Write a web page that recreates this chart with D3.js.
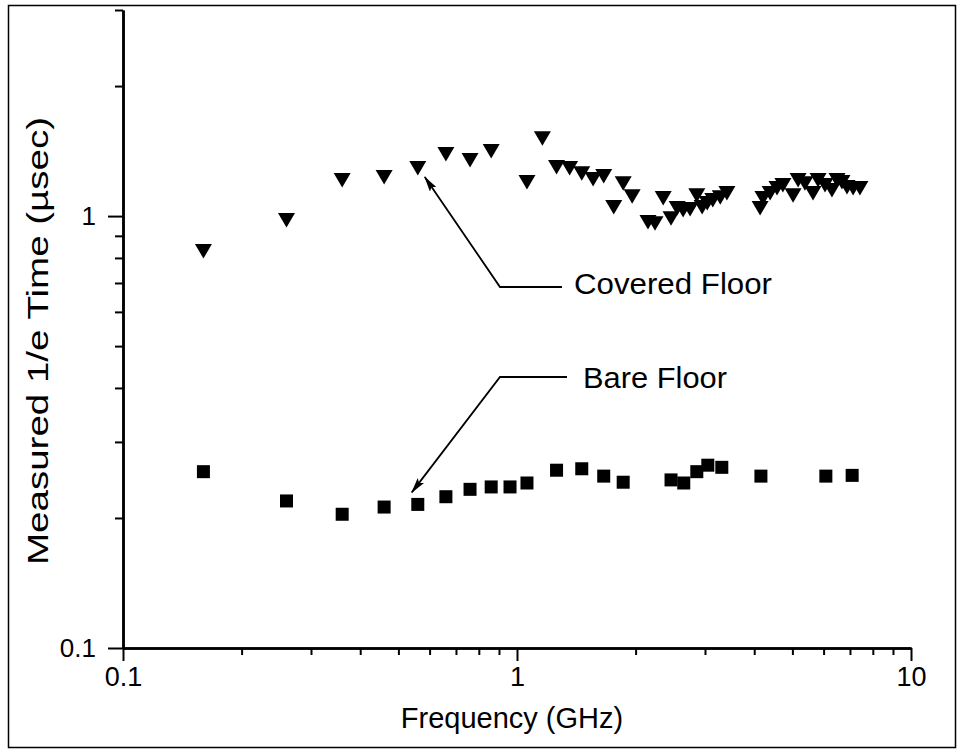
<!DOCTYPE html>
<html><head><meta charset="utf-8">
<script src="https://cdn.jsdelivr.net/npm/d3@7"></script>
<style>
body{margin:0;background:#fff}
svg{display:block}
text{font-family:"Liberation Sans",Arial,Helvetica,sans-serif;fill:#000}
</style>
</head><body>
<svg id="chart" width="959" height="751"></svg>
<script>
// ---- data ----
const coveredFreq = [0.16,0.26,0.36,0.46,0.56,0.66,0.76,0.86,1.06,1.16,1.26,1.36,1.46,1.56,1.66,1.76,1.86,1.96,
  2.15,2.24,2.35,2.46,2.55,2.64,2.75,2.86,2.95,3.04,3.14,3.28,3.41,
  4.14,4.21,4.39,4.57,4.73,5.02,5.17,5.38,5.64,5.81,6.05,6.30,6.49,6.68,6.88,7.13,7.42];
const coveredTime = [0.830,0.979,1.212,1.231,1.292,1.392,1.348,1.414,1.199,1.515,1.299,1.292,1.257,1.218,1.238,1.049,1.192,1.112,
  0.969,0.963,1.101,0.989,1.044,1.033,1.038,1.118,1.049,1.072,1.089,1.106,1.131,
  1.044,1.101,1.131,1.161,1.180,1.118,1.212,1.192,1.131,1.212,1.180,1.149,1.212,1.199,1.167,1.161,1.161];
const bareFreq = [0.16,0.26,0.36,0.46,0.56,0.66,0.76,0.86,0.96,1.06,1.26,1.46,1.66,1.86,2.46,2.65,2.86,3.05,3.31,4.16,6.08,7.09];
const bareTime = [0.256,0.219,0.204,0.212,0.215,0.224,0.233,0.236,0.236,0.241,0.258,0.260,0.250,0.242,0.245,0.241,0.256,0.265,0.262,0.250,0.250,0.251];
const xMajorTicks = [0.1,1,10];
const xTickLabels = ["0.1","1","10"];
const xMinorTicks = [0.2,0.3,0.4,0.5,0.6,0.7,0.8,0.9,2,3,4,5,6,7,8,9];
const yMajorTicks = [0.1,1];
const yTickLabels = ["0.1","1"];
const yMinorTicks = [0.2,0.3,0.4,0.5,0.6,0.7,0.8,0.9,2,3];
const xTitle = "Frequency (GHz)";
const yTitle = "Measured 1/e Time (\u00b5sec)";
const annotations = [
  {label:"Covered Floor", f:0.56, v:1.292},
  {label:"Bare Floor", f:0.56, v:0.215}
];

// ---- drawing ----
const svg = d3.select("#chart");
const x = d3.scaleLog().domain([0.1,10]).range([123,911]);
const y = d3.scaleLog().domain([0.1,3]).range([648,10]);

// outer frame
svg.append("rect").attr("x",8.5).attr("y",5.5).attr("width",947).attr("height",742)
  .attr("fill","none").attr("stroke","#000").attr("stroke-width",1.5);

// axes
function styleAxis(g){
  g.selectAll("path.domain").attr("stroke","#000").attr("stroke-width",2.5);
  g.selectAll(".tick line").attr("stroke","#000").attr("stroke-width",2);
}
const xMinor = svg.append("g").attr("transform","translate(0,648)")
  .call(d3.axisBottom(x).tickValues(xMinorTicks).tickSize(7).tickSizeOuter(0).tickFormat(""));
styleAxis(xMinor);
const xMajor = svg.append("g").attr("transform","translate(0,648)")
  .call(d3.axisBottom(x).tickValues(xMajorTicks).tickSize(13).tickSizeOuter(0).tickPadding(6)
    .tickFormat((d,i)=>xTickLabels[i]));
styleAxis(xMajor);
xMajor.selectAll("text").attr("font-size",27)
  .attr("font-family","'Liberation Sans Narrow','Arial Narrow','Liberation Sans',Arial,sans-serif");

const yMinor = svg.append("g").attr("transform","translate(123,0)")
  .call(d3.axisLeft(y).tickValues(yMinorTicks).tickSize(8).tickSizeOuter(0).tickFormat(""));
styleAxis(yMinor);
const yMajor = svg.append("g").attr("transform","translate(123,0)")
  .call(d3.axisLeft(y).tickValues(yMajorTicks).tickSize(15).tickSizeOuter(0).tickPadding(12)
    .tickFormat((d,i)=>yTickLabels[i]));
styleAxis(yMajor);
yMajor.selectAll("text").attr("font-size",26).attr("font-family","'DejaVu Sans',Verdana,sans-serif");

// axis titles
svg.append("text").attr("x",512).attr("y",728).attr("text-anchor","middle")
  .attr("font-size",29).text(xTitle);
svg.append("text").attr("transform","translate(48,341) rotate(-90)").attr("text-anchor","middle")
  .attr("font-size",29).attr("textLength",448).attr("lengthAdjust","spacingAndGlyphs").text(yTitle);

// markers
const covered = coveredFreq.map((f,i)=>({f, v:coveredTime[i]}));
const bare = bareFreq.map((f,i)=>({f, v:bareTime[i]}));
const triPath = "M-8.5,-7L8.5,-7L0,7.5Z";
svg.append("g").selectAll("path").data(covered).join("path")
  .attr("d",triPath).attr("fill","#000")
  .attr("transform",d=>`translate(${x(d.f)},${y(d.v)})`);
svg.append("g").selectAll("rect").data(bare).join("rect")
  .attr("x",d=>x(d.f)-6.5).attr("y",d=>y(d.v)-6.5).attr("width",13).attr("height",13).attr("fill","#000");

// annotations with arrows
const defs = svg.append("defs");
defs.append("marker").attr("id","arr").attr("viewBox","0 0 16 8").attr("refX",15).attr("refY",4)
  .attr("markerWidth",16).attr("markerHeight",8).attr("markerUnits","userSpaceOnUse").attr("orient","auto")
  .append("path").attr("d","M0,0L16,4L0,8L3,4Z").attr("fill","#000");

const cTip = [x(annotations[0].f)+7, y(annotations[0].v)+9];
const cKnee = [500, 287];
svg.append("path").attr("d",`M562,${cKnee[1]}L${cKnee[0]},${cKnee[1]}L${cTip[0]},${cTip[1]}`)
  .attr("fill","none").attr("stroke","#000").attr("stroke-width",1.8).attr("marker-end","url(#arr)");
svg.append("text").attr("x",574).attr("y",294).attr("font-size",29)
  .attr("textLength",198).attr("lengthAdjust","spacingAndGlyphs").text(annotations[0].label);

const bTip = [x(annotations[1].f)-6, y(annotations[1].v)-12];
const bKnee = [500, 377];
svg.append("path").attr("d",`M567,${bKnee[1]}L${bKnee[0]},${bKnee[1]}L${bTip[0]},${bTip[1]}`)
  .attr("fill","none").attr("stroke","#000").attr("stroke-width",1.8).attr("marker-end","url(#arr)");
svg.append("text").attr("x",583).attr("y",388).attr("font-size",29)
  .attr("textLength",144).attr("lengthAdjust","spacingAndGlyphs").text(annotations[1].label);
</script>
</body></html>
